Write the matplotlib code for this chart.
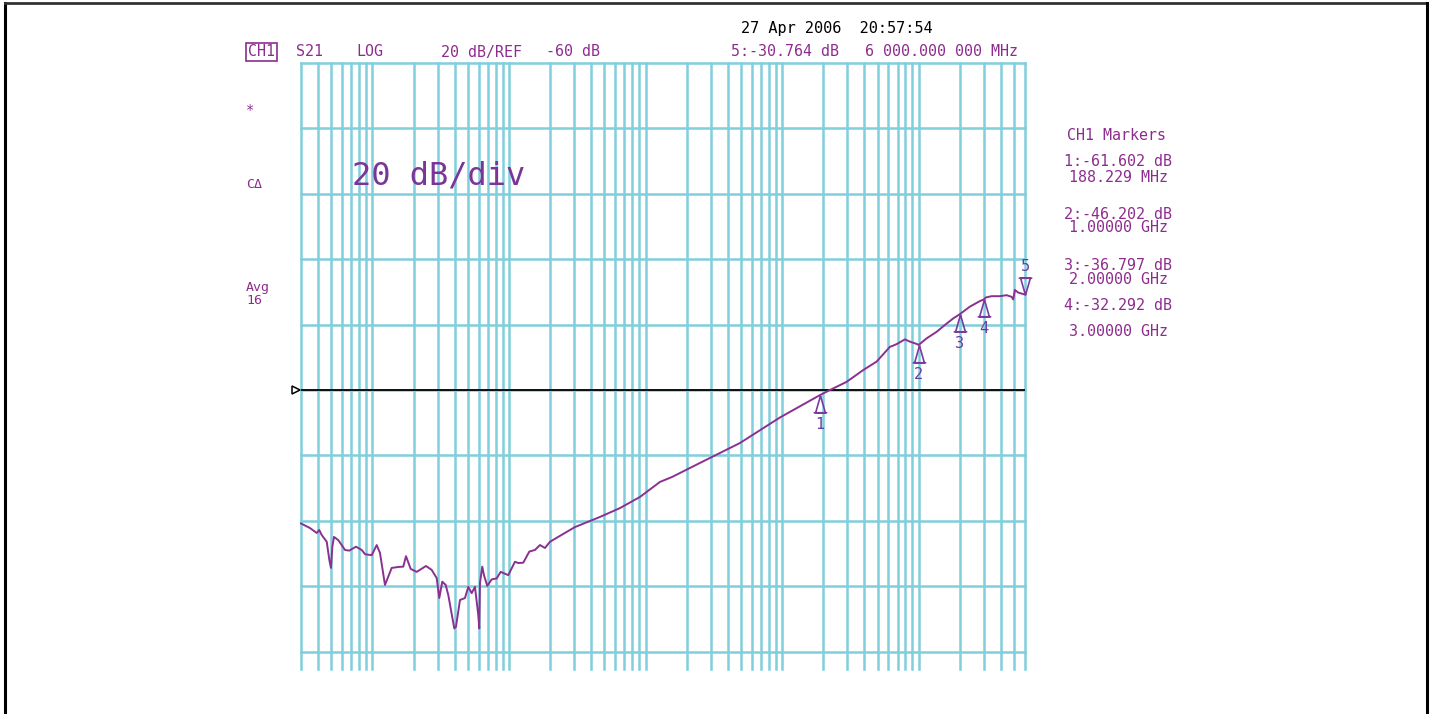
import matplotlib
matplotlib.use("Agg")
import matplotlib.pyplot as plt
import matplotlib.path as mpath
import matplotlib.transforms as mtransforms
from matplotlib.lines import Line2D

# ---------------- data ----------------
freq_mhz = [0.030, 0.0349, 0.0391, 0.0408, 0.0425, 0.0463, 0.0484, 0.0497, 0.0509, 0.0523,
            0.0563, 0.0630, 0.0677, 0.0758, 0.0835, 0.0883, 0.0988, 0.1075, 0.1136, 0.1236,
            0.1384, 0.1547, 0.1683, 0.1761, 0.1907, 0.2109, 0.2468, 0.2717, 0.2955, 0.3087,
            0.3247, 0.3440, 0.3594, 0.3976, 0.4091, 0.4377, 0.4761, 0.5033, 0.5331, 0.5635,
            0.5958, 0.6060, 0.6131, 0.6373, 0.6558, 0.6933, 0.7468, 0.8124, 0.8692, 0.988,
            1.106, 1.169, 1.272, 1.408, 1.549, 1.686, 1.834, 1.995, 2.294, 3.04,
            4.64, 6.49, 9.09, 12.74, 15.6, 25.0, 49.1, 96.3, 188.2, 223.7,
            296.5, 392, 491.7, 615, 669, 708, 792, 862, 965, 1000,
            1142, 1352, 1555, 1789, 2000, 2369, 2804, 3000, 3102, 3415,
            3929, 4398, 4785, 4917, 5061, 5350, 6000]
s21_db = [-100.8, -102.2, -103.7, -102.8, -104.3, -106.4, -112.0, -114.4, -107.9, -104.9,
          -105.9, -108.9, -109.1, -107.9, -108.9, -110.2, -110.5, -107.4, -109.8, -119.6,
          -114.4, -114.1, -114.0, -110.8, -114.7, -115.6, -113.8, -115.0, -117.5, -123.6,
          -118.6, -119.6, -122.7, -132.9, -132.4, -124.2, -123.6, -120.2, -122.1, -120.2,
          -128.8, -132.9, -119.0, -114.0, -116.6, -119.9, -117.9, -117.6, -115.6, -116.6,
          -112.5, -112.9, -112.8, -109.4, -108.9, -107.4, -108.3, -106.4, -104.9, -101.9,
          -98.8, -96.1, -92.7, -88.1, -86.6, -82.3, -76.2, -68.4, -61.6, -60.0,
          -57.5, -53.9, -51.3, -46.8, -46.2, -45.7, -44.5, -45.2, -45.9, -46.2,
          -44.2, -42.2, -40.1, -38.1, -36.8, -34.5, -32.8, -32.3, -31.7, -31.3,
          -31.3, -31.0, -31.5, -32.3, -29.4, -30.2, -30.8]

marker_ids = ["1", "2", "3", "4"]
marker_freq = [188.229, 1000.0, 2000.0, 3000.0]
marker_db = [-61.602, -46.202, -36.797, -32.292]
marker5_freq = 6000.0
marker5_db = -30.764

ref_db = -60
db_per_div = 20
y_top = 40
y_bottom = -145.3
f_start, f_stop = 0.03, 6000.0

marker_texts = ["1:-61.602 dB", "188.229 MHz", "2:-46.202 dB", "1.00000 GHz",
                "3:-36.797 dB", "2.00000 GHz", "4:-32.292 dB", "3.00000 GHz"]

# ---------------- style ----------------
W, H = 1431, 714
GRID = "#80cfdc"
PURP = "#8e2c8e"
TRACE = "#8a3090"
MONO = "DejaVu Sans Mono"

fig = plt.figure(figsize=(W / 100, H / 100), dpi=100)
fig.patch.set_facecolor("white")

def px(x, y):
    return x / W, 1 - y / H

ax = fig.add_axes([301 / W, 1 - 669 / H, 724 / W, (669 - 63) / H])
ax.set_xscale("log")
ax.set_xlim(f_start, f_stop)
ax.set_ylim(y_bottom, y_top)

# log grid: 1..9 per decade inside the span
vgrid = []
for dec in [0.01, 0.1, 1, 10, 100, 1000]:
    for k in range(1, 10):
        v = k * dec
        if f_start * 0.999 <= v <= f_stop * 1.001:
            vgrid.append(v)
for v in vgrid:
    ax.axvline(v, color=GRID, lw=1.8, zorder=1, clip_on=False)
hgrid = list(range(y_top, -141, -db_per_div))
for h in hgrid:
    ax.axhline(h, color=GRID, lw=1.8, zorder=1, clip_on=False)

ax.set_xticks([])
ax.set_yticks([])
ax.minorticks_off()
for s in ax.spines.values():
    s.set_visible(False)
ax.patch.set_alpha(0)

# reference line
ax.axhline(ref_db, color="black", lw=1.3, zorder=2)
ref_tr = mtransforms.blended_transform_factory(ax.transAxes, ax.transData)
ax.plot([-0.007], [ref_db], marker=">", ms=6, mfc="white", mec="black", mew=1.1,
        transform=ref_tr, clip_on=False, zorder=3)

# trace
ax.plot(freq_mhz, s21_db, color=TRACE, lw=1.4, zorder=4, clip_on=False)

# markers
verts = [(0, 1), (-0.5, -0.75), (0.5, -0.75), (0, 1), (-0.7, -0.75), (0.7, -0.75)]
codes = [mpath.Path.MOVETO, mpath.Path.LINETO, mpath.Path.LINETO, mpath.Path.LINETO,
         mpath.Path.MOVETO, mpath.Path.LINETO]
up_marker = mpath.Path(verts, codes)
down_marker = mpath.Path([(x, -y) for x, y in verts], codes)
ms = 14
off_up = mtransforms.offset_copy(ax.transData, fig=fig, x=0, y=-ms / 2, units="points")
off_down = mtransforms.offset_copy(ax.transData, fig=fig, x=0, y=ms / 2, units="points")
for mid, mf, md in zip(marker_ids, marker_freq, marker_db):
    ax.plot([mf], [md], marker=up_marker, ms=ms, mfc="none", mec="#7a3a9e", mew=1.2,
            ls="none", transform=off_up, clip_on=False, zorder=5)
    ax.annotate(mid, (mf, md), xytext=(0, -21), textcoords="offset points",
                ha="center", va="center", fontsize=11, family=MONO, color="#6a3aa0")
ax.plot([marker5_freq], [marker5_db], marker=down_marker, ms=ms, mfc="none", mec="#7a3a9e",
        mew=1.2, ls="none", transform=off_down, clip_on=False, zorder=5)
ax.annotate("5", (marker5_freq, marker5_db), xytext=(0, 20), textcoords="offset points",
            ha="center", va="center", fontsize=11, family=MONO, color="#6a3aa0")

# ---------------- texts ----------------
def t(x, y, s, size=10.8, color=PURP, **kw):
    fig.text(*px(x, y), s, fontsize=size, family=MONO, color=color, va="center", ha="left", **kw)

t(741, 29, "27 Apr 2006  20:57:54", size=11, color="black")
t(248, 52, "CH1", bbox=dict(boxstyle="square,pad=0.12", fc="none", ec=PURP, lw=1.2))
t(296, 52, "S21")
t(356, 52, "LOG")
t(441, 52, "20 dB/REF")
t(546, 52, "-60 dB")
t(731, 52, "5:-30.764 dB")
t(865, 52, "6 000.000 000 MHz")

t(246, 110, "*", size=10)
t(246, 185, "CΔ", size=9.5)
t(246, 288, "Avg", size=9.5)
t(246, 300, "16", size=9.5)

t(352, 176, "20 dB/div", size=23, color="#7a3596")

t(1067, 135, "CH1 Markers")
ys = [162, 177, 214, 228, 266, 280, 306, 331]
xs = [1064, 1069, 1064, 1069, 1064, 1069, 1064, 1069]
for x, y, s in zip(xs, ys, marker_texts):
    t(x, y, s)

# outer border
fig.add_artist(Line2D([5 / W, 5 / W], [0, 1 - 3 / H], transform=fig.transFigure, color="black", lw=2.2))
fig.add_artist(Line2D([5 / W, 1427 / W], [1 - 3 / H, 1 - 3 / H], transform=fig.transFigure, color="#333333", lw=2))
fig.add_artist(Line2D([1427 / W, 1427 / W], [0, 1 - 3 / H], transform=fig.transFigure, color="black", lw=2.2))

fig.savefig("out.png", dpi=100, facecolor="white")
